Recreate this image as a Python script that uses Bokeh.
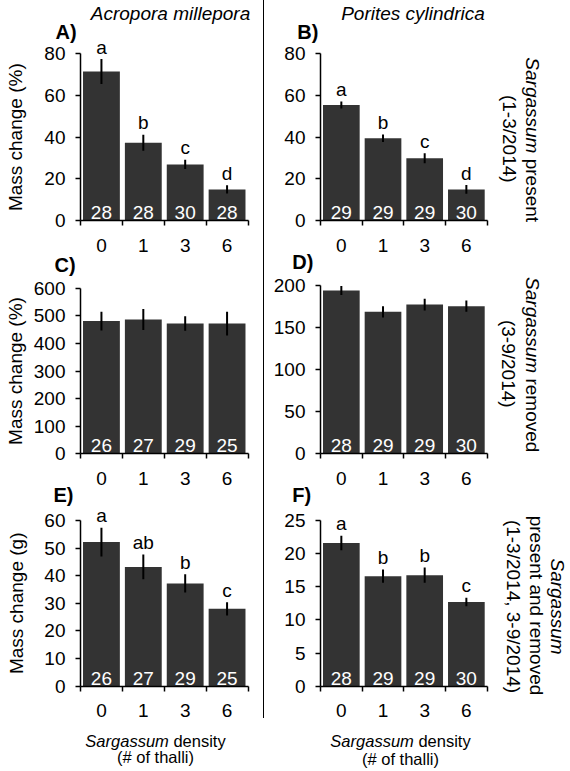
import math
from bokeh.plotting import figure
from bokeh.models import Range1d, FixedTicker, ColumnDataSource, Label, Spacer, LinearAxis
from bokeh.layouts import row
from bokeh.core.properties import value
from bokeh.embed import file_html
from bokeh.resources import INLINE

FONT = "Liberation Sans"

# ---------------- data ----------------
density = ["0", "1", "3", "6"]

A_mean = [71.5, 37.3, 26.9, 14.9]
A_err = [6.0, 3.8, 2.2, 2.0]
A_n = [28, 28, 30, 28]
A_sig = ["a", "b", "c", "d"]

B_mean = [55.4, 39.5, 29.9, 14.9]
B_err = [1.7, 1.8, 2.4, 2.1]
B_n = [29, 29, 29, 30]
B_sig = ["a", "b", "c", "d"]

C_mean = [481, 487, 472, 472]
C_err = [34, 38, 26, 43]
C_n = [26, 27, 29, 25]

D_mean = [194, 168.7, 177.4, 175.4]
D_err = [5.3, 6.7, 7.0, 6.7]
D_n = [28, 29, 29, 30]

E_mean = [52.2, 43.2, 37.2, 28.0]
E_err = [5.2, 4.5, 3.3, 2.4]
E_n = [26, 27, 29, 25]
E_sig = ["a", "ab", "b", "c"]

F_mean = [21.6, 16.6, 16.75, 12.7]
F_err = [1.1, 1.0, 1.15, 0.65]
F_n = [28, 29, 29, 30]
F_sig = ["a", "b", "b", "c"]

A_ticks = [0, 20, 40, 60, 80]
B_ticks = [0, 20, 40, 60, 80]
C_ticks = [0, 100, 200, 300, 400, 500, 600]
D_ticks = [0, 50, 100, 150, 200]
E_ticks = [0, 10, 20, 30, 40, 50, 60]
F_ticks = [0, 5, 10, 15, 20, 25]

BAR_COLOR = "#333333"
REST_EM = {"present": 3.335, "removed": 3.890, "density": 3.168}
ITALIC_EM = 5.057   # "Sargassum" in Arial-metric italic
SPACE_EM = 0.278
H = 771


def make_column(W, xpx0, xpx1):
    """One tall figure per column; the default ranges are page pixels (for texts),
    each panel gets its own named y range, bars share the 'cat' x range."""
    xs = 4.0 / (xpx1 - xpx0)
    p = figure(width=W, height=H, x_range=Range1d(0, W), y_range=Range1d(H, 0),
               output_backend="svg", toolbar_location=None, title=None,
               x_axis_location=None, y_axis_location=None,
               min_border=0, min_border_left=0, min_border_right=0,
               min_border_top=0, min_border_bottom=0)
    p.outline_line_color = None
    p.grid.visible = False
    p.background_fill_color = "white"
    p.border_fill_color = "white"
    p.extra_x_ranges = {"cat": Range1d(-0.5 - xpx0 * xs, -0.5 + (W - xpx0) * xs)}
    return p


def add_panel(p, name, ypx0, ypxt, yticks, mean, err, n, sig=None):
    ytop = yticks[-1]
    ys = ytop / (ypx0 - ypxt)
    ranges = dict(p.extra_y_ranges)
    ranges[name] = Range1d(-(H - ypx0) * ys, ypx0 * ys)
    p.extra_y_ranges = ranges

    xa = LinearAxis(x_range_name="cat", y_range_name=name, fixed_location=0,
                    bounds=(-0.5, 3.5),
                    ticker=FixedTicker(ticks=[0, 1, 2, 3],
                                       minor_ticks=[-0.5, 0.5, 1.5, 2.5, 3.5]))
    xa.major_label_overrides = {i: d for i, d in enumerate(density)}
    xa.major_tick_line_color = None
    xa.major_tick_out = 5
    xa.major_tick_in = 0
    xa.minor_tick_out = 5
    xa.minor_tick_in = 0
    xa.minor_tick_line_color = "black"
    xa.minor_tick_line_width = 1.5
    xa.axis_line_color = "black"
    xa.axis_line_width = 1.5
    xa.major_label_standoff = 13
    xa.major_label_text_font = FONT
    xa.major_label_text_font_size = "19px"
    xa.major_label_text_color = "black"
    p.add_layout(xa, "below")

    ya = LinearAxis(x_range_name="cat", y_range_name=name, fixed_location=-0.5,
                    bounds=(0, ytop),
                    ticker=FixedTicker(ticks=yticks, minor_ticks=[]))
    ya.major_tick_out = 5
    ya.major_tick_in = 0
    ya.major_tick_line_color = "black"
    ya.major_tick_line_width = 1.5
    ya.minor_tick_line_color = None
    ya.axis_line_color = "black"
    ya.axis_line_width = 1.5
    ya.major_label_standoff = 10
    ya.major_label_text_font = FONT
    ya.major_label_text_font_size = "19px"
    ya.major_label_text_color = "black"
    p.add_layout(ya, "left")

    lo = [m - e for m, e in zip(mean, err)]
    hi = [m + e for m, e in zip(mean, err)]
    src = ColumnDataSource(dict(x=[0, 1, 2, 3], top=mean, lo=lo, hi=hi,
                                n=[str(v) for v in n],
                                sig=sig if sig else [""] * 4))
    rn = dict(x_range_name="cat", y_range_name=name)
    p.vbar(x="x", top="top", width=0.88, fill_color=BAR_COLOR,
           line_color=None, source=src, **rn)
    p.segment(x0="x", y0="lo", x1="x", y1="hi", line_color="black",
              line_width=2, source=src, **rn)
    p.text(x="x", y=0, text="n", source=src, text_color="white",
           text_font=value(FONT), text_font_size=value("19px"),
           text_align="center", text_baseline="middle", y_offset=-8, **rn)
    if sig:
        p.text(x="x", y="hi", text="sig", source=src, text_color="black",
               text_font=value(FONT), text_font_size=value("19px"),
               text_align="center", text_baseline="middle", y_offset=-12, **rn)


def lab(p, text, px, py, size="19px", style="normal", align="center",
        baseline="middle", angle=0.0):
    p.add_layout(Label(x=px, y=py, text=text, text_font=FONT,
                       text_font_size=size, text_font_style=style,
                       text_align=align, text_baseline=baseline,
                       angle=angle, text_color="black"))


def vertical_pair(p, rest, px, pyc, size=19.0):
    w_it = ITALIC_EM * size
    space = SPACE_EM * size
    total = w_it + space + REST_EM[rest] * size
    top = pyc - total / 2.0
    lab(p, "Sargassum", px, top, size="%gpx" % size, style="italic",
        align="left", angle=-math.pi / 2)
    lab(p, rest, px, top + w_it + space, size="%gpx" % size,
        align="left", angle=-math.pi / 2)


def bottom_title(p, cx, y1, y2, size=16.5):
    w_it = ITALIC_EM * size
    space = SPACE_EM * size
    start = cx - (w_it + space + REST_EM["density"] * size) / 2.0
    lab(p, "Sargassum", start, y1, size="%gpx" % size, style="italic", align="left")
    lab(p, "density", start + w_it + space, y1, size="%gpx" % size, align="left")
    lab(p, "(# of thalli)", cx, y2, size="%gpx" % size)


# ---------------- left column: Acropora millepora ----------------
pL = make_column(263, 80, 247.5)
add_panel(pL, "A", 220, 53.3, A_ticks, A_mean, A_err, A_n, A_sig)
add_panel(pL, "C", 453.3, 287.7, C_ticks, C_mean, C_err, C_n)
add_panel(pL, "E", 685.7, 520, E_ticks, E_mean, E_err, E_n, E_sig)

lab(pL, "Acropora millepora", 170, 13, style="italic")
lab(pL, "A)", 55, 31.5, size="20px", style="bold", align="left")
lab(pL, "C)", 54, 264, size="20px", style="bold", align="left")
lab(pL, "E)", 53, 494, size="20px", style="bold", align="left")
lab(pL, "Mass change (%)", 15, 136.7, angle=math.pi / 2)
lab(pL, "Mass change (%)", 15, 370.5, angle=math.pi / 2)
lab(pL, "Mass change (g)", 15.5, 602.8, angle=math.pi / 2)
bottom_title(pL, 155, 740, 756.7)

# ---------------- right column: Porites cylindrica ----------------
pR = make_column(306, 56, 222.7)
add_panel(pR, "B", 220, 53.3, B_ticks, B_mean, B_err, B_n, B_sig)
add_panel(pR, "D", 453.3, 285, D_ticks, D_mean, D_err, D_n)
add_panel(pR, "F", 685.7, 520, F_ticks, F_mean, F_err, F_n, F_sig)

lab(pR, "Porites cylindrica", 148.5, 13, style="italic")
lab(pR, "B)", 32.7, 31.5, size="20px", style="bold", align="left")
lab(pR, "D)", 27.7, 261, size="20px", style="bold", align="left")
lab(pR, "F)", 27.7, 494, size="20px", style="bold", align="left")

vertical_pair(pR, "present", 267.5, 139.2)
lab(pR, "(1-3/2014)", 245, 138.3, angle=-math.pi / 2)
vertical_pair(pR, "removed", 267.5, 364.2)
lab(pR, "(3-9/2014)", 244.3, 363.3, angle=-math.pi / 2)
lab(pR, "Sargassum", 292.5, 606, style="italic", angle=-math.pi / 2)
lab(pR, "present and removed", 271.5, 605, angle=-math.pi / 2)
lab(pR, "(1-3/2014, 3-9/2014)", 248.5, 606, angle=-math.pi / 2)
bottom_title(pR, 136, 740.5, 758)

divider = Spacer(width=1, height=718, styles={"background-color": "black"})
layout = row(pL, divider, pR, spacing=0)

open("out.html", "w").write(file_html(layout, INLINE))
